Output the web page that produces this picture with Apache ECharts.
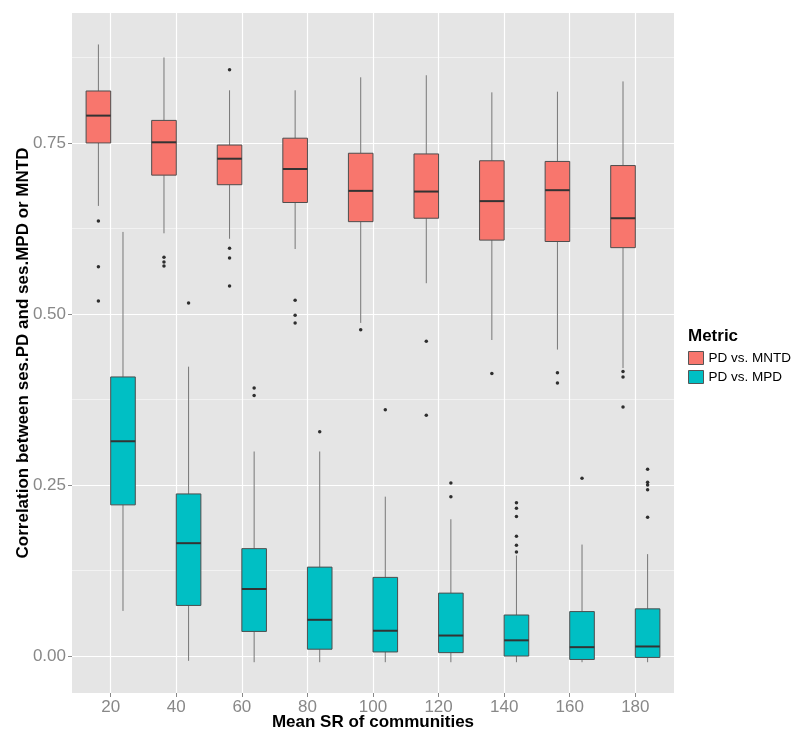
<!DOCTYPE html>
<html>
<head>
<meta charset="utf-8">
<script src="https://cdn.jsdelivr.net/npm/echarts@6/dist/echarts.min.js"></script>
<style>
  html, body { margin: 0; padding: 0; background: #fff; }
  #main { width: 800px; height: 739px; }
</style>
</head>
<body>
<div id="main"></div>
<script>
// Mean SR groups on the x axis
var groups = [20, 40, 60, 80, 100, 120, 140, 160, 180];
var xTicks = [20, 40, 60, 80, 100, 120, 140, 160, 180];
var yTicks = [0, 0.25, 0.5, 0.75];
var yMinorTicks = [0.125, 0.375, 0.625, 0.875];

// [lower whisker, Q1, median, Q3, upper whisker]
var mntdStats = [
    [0.658, 0.750, 0.790, 0.826, 0.894],
    [0.618, 0.703, 0.751, 0.783, 0.875],
    [0.610, 0.689, 0.727, 0.747, 0.827],
    [0.595, 0.663, 0.712, 0.757, 0.827],
    [0.487, 0.635, 0.680, 0.735, 0.846],
    [0.545, 0.640, 0.679, 0.734, 0.849],
    [0.462, 0.608, 0.665, 0.724, 0.824],
    [0.448, 0.606, 0.681, 0.723, 0.825],
    [0.421, 0.597, 0.640, 0.717, 0.840]
];
var mntdOutliers = [
    [0.636, 0.569, 0.519],
    [0.583, 0.576, 0.570],
    [0.857, 0.596, 0.582, 0.541],
    [0.520, 0.498, 0.487],
    [0.477],
    [0.460, 0.352],
    [0.413],
    [0.414, 0.399],
    [0.416, 0.408, 0.364]
];

var mpdStats = [
    [0.066, 0.221, 0.314, 0.408, 0.620],
    [-0.007, 0.074, 0.165, 0.237, 0.423],
    [-0.009, 0.036, 0.098, 0.157, 0.299],
    [-0.009, 0.010, 0.053, 0.130, 0.299],
    [-0.009, 0.006, 0.037, 0.115, 0.233],
    [-0.009, 0.005, 0.030, 0.092, 0.200],
    [-0.009, 0.000, 0.023, 0.060, 0.147],
    [-0.009, -0.005, 0.013, 0.065, 0.163],
    [-0.009, -0.002, 0.014, 0.069, 0.149]
];
var mpdOutliers = [
    [],
    [0.516],
    [0.392, 0.381],
    [0.328],
    [0.360],
    [0.253, 0.233],
    [0.224, 0.216, 0.204, 0.175, 0.162, 0.152],
    [0.260],
    [0.273, 0.254, 0.250, 0.243, 0.203]
];

var dodge = 3.75;   // half of a dodged box slot, in x units
var boxW = 7.5;

function boxData(stats) {
    return groups.map(function (g, i) {
        return [g].concat(stats[i]);
    });
}

function outlierData(outs, off) {
    var pts = [];
    outs.forEach(function (list, i) {
        list.forEach(function (v) { pts.push([groups[i] + off, v]); });
    });
    return pts;
}

function makeRender(off) {
    return function (params, api) {
        var x = api.value(0) + off;
        var lo = api.coord([x, api.value(1)]);
        var q1 = api.coord([x, api.value(2)]);
        var md = api.coord([x, api.value(3)]);
        var q3 = api.coord([x, api.value(4)]);
        var hi = api.coord([x, api.value(5)]);
        var hw = api.size([boxW, 0])[0] / 2;
        var cx = lo[0];
        var fill = api.visual('color');
        return {
            type: 'group',
            children: [
                { type: 'line', shape: { x1: cx, y1: hi[1], x2: cx, y2: q3[1] },
                  style: { stroke: '#777', lineWidth: 1 } },
                { type: 'line', shape: { x1: cx, y1: q1[1], x2: cx, y2: lo[1] },
                  style: { stroke: '#777', lineWidth: 1 } },
                { type: 'rect', shape: { x: cx - hw, y: q3[1], width: hw * 2, height: q1[1] - q3[1] },
                  style: { fill: fill, stroke: '#4d4d4d', lineWidth: 1 } },
                { type: 'line', shape: { x1: cx - hw, y1: md[1], x2: cx + hw, y2: md[1] },
                  style: { stroke: '#333', lineWidth: 2 } }
            ]
        };
    };
}

var myChart = echarts.init(document.getElementById('main'));

var option = {
    animation: false,
    title: {
        text: 'Metric',
        left: 683,
        top: 323,
        textStyle: { fontFamily: 'Liberation Sans', fontSize: 17, fontWeight: 'bold', color: '#000' }
    },
    legend: {
        orient: 'vertical',
        left: 683,
        top: 346,
        itemWidth: 15,
        itemHeight: 13,
        itemGap: 5,
        icon: 'rect',
        textStyle: { fontFamily: 'Liberation Sans', fontSize: 13.5, color: '#000' },
        data: [
            { name: 'PD vs. MNTD', itemStyle: { color: '#F8766D', borderColor: '#555', borderWidth: 1 } },
            { name: 'PD vs. MPD', itemStyle: { color: '#00BFC4', borderColor: '#555', borderWidth: 1 } }
        ]
    },
    grid: {
        left: 72,
        right: 126,
        top: 13,
        bottom: 46,
        outerBoundsMode: 'none',
        show: true,
        backgroundColor: '#E5E5E5',
        borderWidth: 0
    },
    xAxis: {
        type: 'value',
        min: 8.2,
        max: 191.8,
        name: 'Mean SR of communities',
        nameLocation: 'middle',
        nameMoveOverlap: false,
        nameGap: 21,
        nameTextStyle: { fontFamily: 'Liberation Sans', fontSize: 17, fontWeight: 'bold', color: '#000' },
        axisLine: { show: false, onZero: false },
        axisTick: { show: true, length: 4, customValues: xTicks, lineStyle: { color: '#888' } },
        axisLabel: { customValues: xTicks, fontFamily: 'Liberation Sans', fontSize: 17, color: '#888', margin: 6 },
        splitLine: { show: true, lineStyle: { color: '#fff', width: 1.2 } }
    },
    yAxis: [{
        type: 'value',
        min: -0.054,
        max: 0.94,
        name: 'Correlation between ses.PD and ses.MPD or MNTD',
        nameLocation: 'middle',
        nameMoveOverlap: false,
        nameGap: 40,
        nameTextStyle: { fontFamily: 'Liberation Sans', fontSize: 17, fontWeight: 'bold', color: '#000' },
        axisLine: { show: false, onZero: false },
        axisTick: { show: true, length: 4, customValues: yTicks, lineStyle: { color: '#888' } },
        axisLabel: {
            customValues: yTicks, fontFamily: 'Liberation Sans', fontSize: 17, color: '#888', margin: 6,
            formatter: function (v) { return v.toFixed(2); }
        },
        splitLine: { show: true, lineStyle: { color: '#fff', width: 1.2 } }
    }, {
        type: 'value',
        min: -0.054,
        max: 0.94,
        position: 'left',
        axisLine: { show: false, onZero: false },
        axisTick: { show: false, customValues: yMinorTicks },
        axisLabel: { show: false, customValues: yMinorTicks },
        splitLine: { show: true, lineStyle: { color: '#F2F2F2', width: 1 } }
    }],
    series: [
        {
            name: 'PD vs. MNTD',
            type: 'custom',
            renderItem: makeRender(-dodge),
            itemStyle: { color: '#F8766D' },
            encode: { x: 0, y: [1, 2, 3, 4, 5] },
            data: boxData(mntdStats),
            z: 3
        },
        {
            name: 'PD vs. MPD',
            type: 'custom',
            renderItem: makeRender(dodge),
            itemStyle: { color: '#00BFC4' },
            encode: { x: 0, y: [1, 2, 3, 4, 5] },
            data: boxData(mpdStats),
            z: 3
        },
        {
            type: 'scatter',
            symbolSize: 3.5,
            itemStyle: { color: '#000' },
            data: outlierData(mntdOutliers, -dodge),
            z: 4
        },
        {
            type: 'scatter',
            symbolSize: 3.5,
            itemStyle: { color: '#000' },
            data: outlierData(mpdOutliers, dodge),
            z: 4
        }
    ]
};

myChart.setOption(option);
</script>
</body>
</html>
